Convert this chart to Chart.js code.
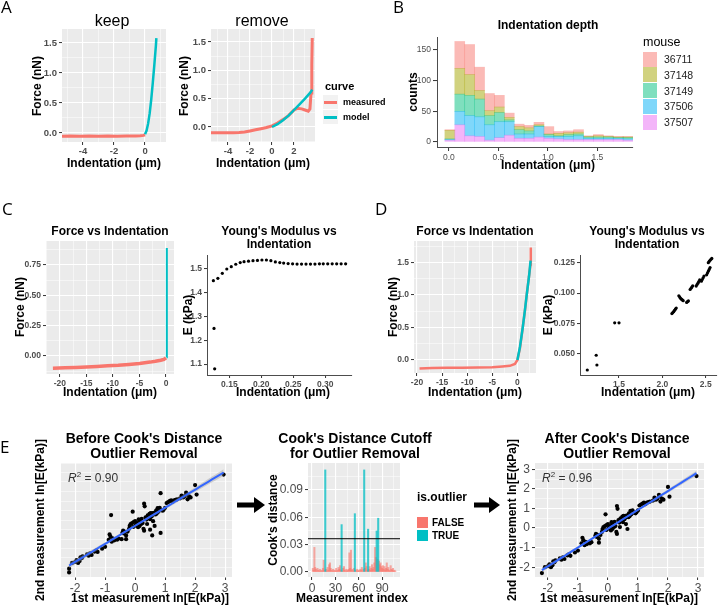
<!DOCTYPE html>
<html>
<head>
<meta charset="utf-8">
<title>Indentation figure</title>
<script src="https://cdn.jsdelivr.net/npm/chart.js@4.4.1/dist/chart.umd.min.js"></script>
<style>
  html, body { margin: 0; padding: 0; }
  body { width: 720px; height: 609px; position: relative; overflow: hidden; background: #fff;
         font-family: "Liberation Sans", Arial, sans-serif; }
  canvas { position: absolute; }
  .lbl { position: absolute; white-space: nowrap; line-height: 1; z-index: 2; color: #000; }
  .key { position: absolute; z-index: 2; }
  .panel { position: absolute; font-family: "Open Sans", sans-serif; font-size: 17px; line-height: 1; z-index: 2; }
</style>
</head>
<body>
<svg width="720" height="609" style="position:absolute;left:0;top:0;z-index:1">
  <path d="M237 502.5 H254 V497 L265 505 L254 513 V507.5 H237 Z" fill="#000"/>
  <path d="M474 502.5 H489 V497 L500 505 L489 513 V507.5 H474 Z" fill="#000"/>
</svg>
<script>
'use strict'

// ---------- A: force curves ----------
const keepMeasX = [-5.35, -4.8, -4.2, -3.6, -3.0, -2.4, -1.8, -1.2, -0.6, -0.3, -0.1, 0.0]
const keepMeasY = [-0.055, -0.05, -0.056, -0.052, -0.055, -0.05, -0.054, -0.05, -0.048, -0.045, -0.04, -0.03]
const keepModelX = [0.0, 0.1, 0.2, 0.3, 0.4, 0.5, 0.6, 0.7, 0.73]
const keepModelY = [-0.02, 0.04, 0.16, 0.33, 0.56, 0.84, 1.14, 1.46, 1.58]

const removeMeasX = [-5.55, -5, -4.5, -4, -3.5, -3, -2.5, -2, -1.5, -1, -0.5, 0, 0.5, 1, 1.5, 2, 2.3, 2.7, 3.0, 3.3, 3.45, 3.55, 3.62, 3.66]
const removeMeasY = [-0.1, -0.1, -0.1, -0.1, -0.1, -0.097, -0.09, -0.07, -0.05, -0.03, -0.01, 0.02, 0.07, 0.13, 0.2, 0.3, 0.33, 0.32, 0.3, 0.28, 0.32, 0.6, 1.1, 1.57]
const removeModelX = [0, 0.5, 1, 1.5, 2, 2.5, 3, 3.5, 3.66]
const removeModelY = [0, 0.05, 0.12, 0.2, 0.3, 0.4, 0.5, 0.61, 0.66]

// ---------- B: indentation depth histogram ----------
const binCenters = [0.01, 0.11, 0.21, 0.31, 0.41, 0.51, 0.61, 0.71, 0.81, 0.91, 1.01, 1.11, 1.21, 1.31, 1.41, 1.51, 1.61, 1.71, 1.81]
const mouseIds = ['36711', '37148', '37149', '37506', '37507']
const count36711 = [1, 44, 49, 38, 28, 19, 7, 4, 4, 4, 12, 3, 3, 4, 1, 2, 1, 1, 1]
const count37148 = [14, 42, 34, 14, 8, 9, 4, 5, 5, 2, 1, 4, 3, 3, 1, 2, 1, 1, 1]
const count37149 = [1, 28, 33, 29, 15, 15, 3, 7, 5, 1, 3, 1, 3, 3, 2, 2, 2, 1, 2]
const count37506 = [1, 22, 33, 32, 25, 26, 22, 7, 7, 17, 3, 4, 5, 6, 2, 2, 2, 2, 2]
const count37507 = [3, 28, 10, 9, 3, 7, 11, 6, 6, 8, 6, 5, 4, 4, 4, 4, 4, 4, 3]

// ---------- C: force and modulus vs indentation ----------
const cMeasX = [-21.3, -19, -17, -15, -13, -11, -9, -7, -5, -3, -2, -1, -0.4, 0]
const cMeasY = [-0.100, -0.097, -0.094, -0.090, -0.086, -0.081, -0.076, -0.069, -0.061, -0.050, -0.043, -0.035, -0.028, -0.015]
const cModelX = [0.12, 0.14, 0.15, 0.16]
const cModelY = [-0.01, 0.3, 0.6, 0.89]
const cModX = [0.125, 0.126, 0.127, 0.132, 0.139, 0.146, 0.153, 0.160, 0.167, 0.173, 0.180, 0.187, 0.194, 0.201, 0.208, 0.215, 0.222,
  0.229, 0.235, 0.242, 0.249, 0.256, 0.263, 0.270, 0.277, 0.284, 0.291, 0.297, 0.304, 0.311, 0.318, 0.325, 0.332]
const cModY = [1.451, 1.25, 1.08, 1.461, 1.482, 1.50, 1.51, 1.52, 1.527, 1.531, 1.533, 1.535, 1.536, 1.538, 1.538, 1.535, 1.530,
  1.527, 1.525, 1.523, 1.522, 1.521, 1.521, 1.521, 1.521, 1.521, 1.522, 1.522, 1.522, 1.522, 1.522, 1.522, 1.522]

// ---------- D ----------
const dMeasX = [-19.5, -17, -14, -11, -8, -5, -3, -1.5, -0.5, 0, 0.5, 1.06, 1.5, 1.85, 2.3, 2.6, 2.65, 2.68]
const dMeasY = [-0.13, -0.125, -0.12, -0.118, -0.115, -0.11, -0.10, -0.09, -0.06, 0.0, 0.18, 0.5, 0.76, 1.0, 1.28, 1.47, 1.6, 1.73]
const dModelX = [0, 0.5, 1.06, 1.5, 1.85, 2.3, 2.62]
const dModelY = [0, 0.2, 0.5, 0.77, 1.0, 1.28, 1.53]
const dModX = [1.134, 1.237, 1.245, 1.45, 1.50,
  2.11, 2.12, 2.13, 2.14, 2.15, 2.16,
  2.19, 2.20, 2.21, 2.22, 2.23, 2.24,
  2.28, 2.29, 2.30,
  2.32, 2.33, 2.34, 2.35,
  2.39, 2.40, 2.41, 2.42, 2.43,
  2.45, 2.46, 2.47, 2.48,
  2.51, 2.52, 2.53, 2.54, 2.55,
  2.53, 2.54, 2.55, 2.56, 2.57]
const dModY = [0.0369, 0.0490, 0.0410, 0.0756, 0.0756,
  0.0832, 0.0840, 0.0848, 0.0858, 0.0868, 0.0878,
  0.0978, 0.0968, 0.0958, 0.0950, 0.0944, 0.0938,
  0.0924, 0.0930, 0.0936,
  0.1030, 0.1040, 0.1050, 0.1060,
  0.1058, 0.1070, 0.1082, 0.1095, 0.1108,
  0.1098, 0.1112, 0.1126, 0.1140,
  0.1150, 0.1165, 0.1180, 0.1195, 0.1210,
  0.1250, 0.1260, 0.1270, 0.1278, 0.1285]

// ---------- E: repeat measurements and Cook's distance ----------
const keptX = [-2.2, -2.1, -2.0, -1.95, -1.9, -1.85, -1.82, -1.78, -1.75, -1.6, -1.55, -1.5, -1.45, -1.35, -1.3, -1.25, -1.1, -1.0,
  -0.88, -0.85, -0.82, -0.78, -0.75, -0.7, -0.65, -0.6, -0.55, -0.42, -0.4, -0.38, -0.35, -0.3, -0.3, -0.25,
  -0.2, -0.18, -0.15, -0.1, -0.08, -0.05, -0.05, 0.0, 0.02, 0.05, 0.08, 0.1, 0.12, 0.15, 0.15, 0.2, 0.22, 0.25, 0.28, 0.3, 0.32, 0.3, 0.35, 0.38, 0.4,
  0.42, 0.45, 0.48, 0.5, 0.52, 0.55, 0.58, 0.6, 0.62, 0.65, 0.65, 0.68, 0.7, 0.72, 0.75, 0.78, 0.82, 0.88, 0.92, 0.95,
  1.0, 1.05, 1.1, 1.15, 1.2, 1.25, 1.3, 1.35, 1.4, 1.5, 1.55, 1.6, 1.65, 1.7, 1.72, 1.75, 1.8, 1.85, 2.0, 2.05,
  2.95]
const keptY = [-2.3, -2.0, -1.95, -1.85, -2.0, -1.9, -1.7, -1.75, -1.65, -1.55, -1.62, -1.5, -1.58, -1.4, -1.35, -1.42, -1.25, -1.15,
  -0.78, -0.5, -0.62, -0.88, -0.7, -0.82, -0.75, -0.78, -0.72, -0.4, -0.3, -0.45, -0.35, -0.55, -0.75, -0.35,
  -0.2, -0.05, 0.05, 0.1, 0.7, 0.15, -0.1, 0.2, -0.02, 0.05, 0.1, -0.12, 0.3, 0.2, -0.05, 0.05, 0.32, 0.1, -0.2, 1.12, 0.98, -0.3, 0.4, 0.28, 0.05,
  0.5, 0.38, 0.58, 0.3, 0.62, 0.45, 0.62, 0.2, 0.55, 0.65, -0.05, 0.55, 0.75, 0.6, 0.88, 0.7, 0.9, 0.78, 0.75, 0.8,
  0.9, 1.15, 1.2, 1.25, 1.3, 1.22, 1.3, 1.32, 1.35, 1.4, 1.55, 1.45, 1.5, 1.7, 1.62, 1.35, 1.5, 1.45, 2.1, 1.6,
  2.65]
const outX = [-0.8, 0.85, 0.85, 0.57, -2.2, 0.5, -0.45]
const outY = [0.52, 1.67, -0.42, -0.55, -2.5, -0.25, -0.75]
const r2Before = '0.90'
const r2After = '0.96'

const cooksD = [0.004, 0.002, 0.027, 0.005, 0.003, 0.001, 0.004, 0.002, 0.001, 0.003,
  0.001, 0.002, 0.001, 0.004, 0.013, 0.002, 0.112, 0.003, 0.001, 0.005,
  0.002, 0.008, 0.010, 0.004, 0.002, 0.001, 0.003, 0.001, 0.002, 0.001,
  0.004, 0.001, 0.002, 0.005, 0.003, 0.007, 0.002, 0.052, 0.001, 0.004,
  0.006, 0.002, 0.001, 0.003, 0.001, 0.002, 0.003, 0.021, 0.004, 0.024,
  0.002, 0.003, 0.001, 0.004, 0.064, 0.002, 0.001, 0.003, 0.001, 0.002,
  0.001, 0.003, 0.002, 0.005, 0.001, 0.003, 0.112, 0.004, 0.010, 0.006,
  0.002, 0.047, 0.003, 0.006, 0.002, 0.004, 0.008, 0.003, 0.005, 0.010,
  0.027, 0.016, 0.045, 0.014, 0.059, 0.012, 0.008, 0.010, 0.006, 0.004,
  0.007, 0.003, 0.006, 0.002, 0.004, 0.010, 0.003, 0.005, 0.002, 0.001,
  0.007, 0.003, 0.002, 0.004, 0.001, 0.002, 0.001]
const outlierIndex = [17, 38, 55, 67, 72, 83, 85]
const cooksCutoff = 0.0365

// ---------- style ----------
const RED = '#F8766D'
const TEAL = '#00BFC4'
const mouseColors = ['rgba(248,118,109,0.5)', 'rgba(163,165,0,0.5)', 'rgba(0,191,125,0.5)', 'rgba(0,176,246,0.5)', 'rgba(231,107,243,0.5)']

Chart.defaults.font.family = '"Liberation Sans", Arial, sans-serif'

const panelBg = {
  id: 'panelBg',
  beforeDraw(chart, args, opts) {
    if (!opts.color) return
    const a = chart.chartArea
    chart.ctx.save()
    chart.ctx.fillStyle = opts.color
    chart.ctx.fillRect(a.left, a.top, a.right - a.left, a.bottom - a.top)
    chart.ctx.restore()
  }
}

function axis(min, max, step, digits, o = {}) {
  const gray = !o.classic
  const minor = gray ? step / 2 : step
  const major = v => Math.abs(v / step - Math.round(v / step)) < 1e-6
  return {
    type: 'linear', min, max, offset: false, stacked: !!o.stacked,
    border: { display: !gray, color: '#4d4d4d', width: 1 },
    grid: {
      offset: false,
      drawOnChartArea: gray,
      color: '#ffffff',
      lineWidth: c => (c.tick && major(c.tick.value)) ? 1.1 : 0.5,
      tickLength: o.tickLen || 3,
      tickWidth: 1,
      tickColor: c => (c.tick && major(c.tick.value)) ? '#333333' : 'rgba(0,0,0,0)'
    },
    ticks: {
      stepSize: minor, includeBounds: false, autoSkip: false, maxRotation: 0, minRotation: 0,
      padding: o.pad === undefined ? 2 : o.pad, color: '#4d4d4d',
      font: { size: o.size || 9, weight: o.bold ? 'bold' : 'normal' },
      callback: v => major(v) ? (Math.abs(v) < 1e-9 ? 0 : v).toFixed(digits) : ''
    }
  }
}

function build(geo, type, datasets, x, y, gray) {
  const ML = 42, MB = 22, MT = 10, MR = 14
  const left = geo.l - ML, top = geo.t - MT
  const w = geo.r - geo.l + ML + MR, h = geo.b - geo.t + MT + MB
  const cv = document.createElement('canvas')
  cv.width = w
  cv.height = h
  Object.assign(cv.style, { left: left + 'px', top: top + 'px', width: w + 'px', height: h + 'px' })
  document.body.appendChild(cv)
  x.afterFit = s => { s.height = MB }
  y.afterFit = s => { s.width = ML }
  return new Chart(cv, {
    type,
    data: { datasets },
    options: {
      responsive: false,
      animation: false,
      layout: { padding: { top: MT, right: MR, left: 0, bottom: 0 } },
      scales: { x, y },
      plugins: { legend: { display: false }, tooltip: { enabled: false }, panelBg: { color: gray ? '#ebebeb' : null } }
    },
    plugins: [panelBg]
  })
}

const pts = (xs, ys) => xs.map((x, i) => ({ x, y: ys[i] }))
const line = (xs, ys, color, width) => ({ data: pts(xs, ys), showLine: true, pointRadius: 0, borderColor: color, borderWidth: width, tension: 0 })
const dots = (xs, ys, r) => ({ data: pts(xs, ys), showLine: false, pointRadius: r, pointBackgroundColor: '#000', pointBorderColor: '#000', pointBorderWidth: 0 })

function put(html, x, y, css, align) {
  const d = document.createElement('div')
  d.className = 'lbl'
  d.innerHTML = html
  d.style.cssText = 'left:' + x + 'px;top:' + y + 'px;' + (css || '')
  d.style.transform = align === 'l' ? 'translate(0,-50%)' : (align === 'v' ? 'translate(-50%,-50%) rotate(-90deg)' : 'translate(-50%,-50%)')
  document.body.appendChild(d)
}
function box(x, y, w, h, color) {
  const d = document.createElement('div')
  d.className = 'key'
  d.style.cssText = 'left:' + x + 'px;top:' + y + 'px;width:' + w + 'px;height:' + h + 'px;background:' + color
  document.body.appendChild(d)
  return d
}
const AX = 'font-weight:bold;font-size:12px;'

// linear fit with 95% band, computed from the points
function fit(xs, ys) {
  const n = xs.length
  const mx = xs.reduce((a, b) => a + b, 0) / n
  const my = ys.reduce((a, b) => a + b, 0) / n
  let sxx = 0, sxy = 0
  xs.forEach((x, i) => { sxx += (x - mx) ** 2; sxy += (x - mx) * (ys[i] - my) })
  const b = sxy / sxx, a = my - b * mx
  let sse = 0
  xs.forEach((x, i) => { sse += (ys[i] - a - b * x) ** 2 })
  const s = Math.sqrt(sse / (n - 2))
  const lo = Math.min(...xs), hi = Math.max(...xs)
  const mid = [], up = [], dn = []
  for (let k = 0; k <= 40; k++) {
    const x = lo + (hi - lo) * k / 40
    const yv = a + b * x
    const se = 1.984 * s * Math.sqrt(1 / n + (x - mx) ** 2 / sxx)
    mid.push({ x, y: yv }); up.push({ x, y: yv + se }); dn.push({ x, y: yv - se })
  }
  return [
    { data: mid, showLine: true, pointRadius: 0, borderColor: '#3366FF', borderWidth: 2, order: 0 },
    { data: up, showLine: true, pointRadius: 0, borderWidth: 0, borderColor: 'rgba(0,0,0,0)', fill: '+1', backgroundColor: 'rgba(153,153,153,0.4)', order: 1 },
    { data: dn, showLine: true, pointRadius: 0, borderWidth: 0, borderColor: 'rgba(0,0,0,0)', fill: false, order: 2 }
  ]
}

// ---------- A ----------
build({ l: 62, t: 29, r: 166, b: 142 }, 'scatter',
  [line(keepModelX, keepModelY, TEAL, 2.5), line(keepMeasX, keepMeasY, RED, 3)],
  axis(-5.35, 1.35, 2, 0, { size: 9.5, bold: true, pad: 1 }),
  axis(-0.15, 1.733, 0.5, 1, { size: 9.5, bold: true }), true)
build({ l: 211, t: 29, r: 315, b: 142 }, 'scatter',
  [line(removeModelX, removeModelY, TEAL, 2.5), line(removeMeasX, removeMeasY, RED, 3)],
  axis(-5.55, 3.91, 2, 0, { size: 9.5, bold: true, pad: 1 }),
  axis(-0.265, 1.73, 0.5, 1, { size: 9.5, bold: true }), true)

put('keep', 112, 21, 'font-size:16px;')
put('remove', 262, 21, 'font-size:16px;')
put('Indentation (μm)', 114, 163, AX)
put('Indentation (μm)', 263, 163, AX)
put('Force (nN)', 37, 86, AX, 'v')
put('Force (nN)', 184, 86, AX, 'v')
put('curve', 325, 86, 'font-weight:bold;font-size:11px;', 'l')
;[[RED, 'measured', 102], [TEAL, 'model', 117]].forEach(([c, t, y]) => {
  box(323, y - 7, 15, 14, '#f2f2f2')
  box(324, y - 1, 13, 2.5, c)
  put(t, 343, y, 'font-weight:bold;font-size:9px;', 'l')
})

// ---------- B ----------
const stackOrder = [count37507, count37506, count37149, count37148, count36711]
const stackColors = [mouseColors[4], mouseColors[3], mouseColors[2], mouseColors[1], mouseColors[0]]
build({ l: 437, t: 37, r: 633, b: 147 }, 'bar',
  stackOrder.map((cnt, k) => ({
    data: pts(binCenters, cnt), backgroundColor: stackColors[k], borderWidth: 0,
    barPercentage: 1, categoryPercentage: 1
  })),
  axis(-0.12, 1.86, 0.5, 1, { classic: true, stacked: true, size: 8.5, tickLen: 4 }),
  axis(-8.25, 171.3, 50, 0, { classic: true, stacked: true, size: 8.5, tickLen: 4 }), false)
put('Indentation depth', 548, 25, 'font-weight:bold;font-size:12px;')
put('Indentation (μm)', 548, 165, AX)
put('counts', 413, 92, AX, 'v')
put('mouse', 643, 42, 'font-size:12.5px;', 'l')
mouseIds.forEach((id, k) => {
  const y = 59 + k * 15.8
  box(643, y - 7.5, 14, 15, mouseColors[k])
  put(id, 664, y, 'font-size:10.5px;color:#222;', 'l')
})

// ---------- C ----------
build({ l: 46, t: 241, r: 174, b: 374 }, 'scatter',
  [line(cModelX, cModelY, TEAL, 2), line(cMeasX, cMeasY, RED, 3.5)],
  axis(-22.6, 1.5, 5, 0, { size: 8.5, bold: true }),
  axis(-0.148, 0.948, 0.25, 2, { size: 8.5, bold: true }), true)
build({ l: 207, t: 255, r: 352, b: 375 }, 'scatter',
  [dots(cModX, cModY, 1.6)],
  axis(0.115, 0.342, 0.05, 2, { classic: true, size: 8.5, bold: true }),
  axis(1.054, 1.559, 0.1, 1, { classic: true, size: 8.5, bold: true }), false)
put('Force vs Indentation', 110, 231, 'font-weight:bold;font-size:12px;')
put("Young's Modulus vs", 279, 231, 'font-weight:bold;font-size:12px;')
put('Indentation', 279, 244, 'font-weight:bold;font-size:12px;')
put('Indentation (μm)', 110, 392, AX)
put('Indentation (μm)', 283, 392, AX)
put('Force (nN)', 20, 307, AX, 'v')
put('E (kPa)', 188, 315, AX, 'v')

// ---------- D ----------
build({ l: 414, t: 241, r: 536, b: 373 }, 'scatter',
  [line(dModelX, dModelY, TEAL, 2.5), line(dMeasX, dMeasY, RED, 2.5)],
  axis(-20.6, 3.7, 5, 0, { size: 8.5, bold: true }),
  axis(-0.2, 1.83, 0.5, 1, { size: 8.5, bold: true }), true)
build({ l: 580, t: 255, r: 717, b: 375 }, 'scatter',
  [dots(dModX, dModY, 1.6)],
  axis(1.05, 2.63, 0.5, 1, { classic: true, size: 8.5, bold: true }),
  axis(0.0328, 0.1313, 0.025, 3, { classic: true, size: 8.5, bold: true }), false)
put('Force vs Indentation', 475, 231, 'font-weight:bold;font-size:12px;')
put("Young's Modulus vs", 647, 231, 'font-weight:bold;font-size:12px;')
put('Indentation', 647, 244, 'font-weight:bold;font-size:12px;')
put('Indentation (μm)', 475, 392, AX)
put('Indentation (μm)', 648, 392, AX)
put('Force (nN)', 393, 307, AX, 'v')
put('E (kPa)', 548, 315, AX, 'v')

// ---------- E ----------
const allX = keptX.concat(outX), allY = keptY.concat(outY)
build({ l: 61, t: 463, r: 232, b: 577 }, 'scatter',
  fit(allX, allY).concat([Object.assign(dots(allX, allY, 2.1), { order: 3 })]),
  axis(-2.47, 3.23, 1, 0, { size: 12, pad: 1 }),
  axis(-2.74, 3.26, 1, 0, { size: 12 }), true)
build({ l: 535, t: 463, r: 704, b: 577 }, 'scatter',
  fit(keptX, keptY).concat([Object.assign(dots(keptX, keptY, 2.1), { order: 3 })]),
  axis(-2.43, 3.2, 1, 0, { size: 12, pad: 1 }),
  axis(-2.5, 3.32, 1, 0, { size: 12 }), true)

const isOut = cooksD.map((_, i) => outlierIndex.includes(i + 1))
const cooksXMin = -5.2, cooksXMax = 113
build({ l: 308, t: 463, r: 400, b: 577 }, 'bar', [
  { type: 'scatter', data: [{ x: cooksXMin, y: cooksCutoff }, { x: cooksXMax, y: cooksCutoff }], showLine: true,
    pointRadius: 0, borderColor: '#000', borderWidth: 1, order: 0 },
  { data: cooksD.map((d, i) => ({ x: i + 1, y: d })).filter((p, i) => !isOut[i]),
    backgroundColor: 'rgba(248,118,109,0.6)', barThickness: 1.4, grouped: false, order: 2 },
  { data: cooksD.map((d, i) => ({ x: i + 1, y: d })).filter((p, i) => isOut[i]),
    backgroundColor: 'rgba(0,191,196,0.75)', barThickness: 1.4, grouped: false, order: 1 }
],
axis(cooksXMin, cooksXMax, 30, 0, { size: 12, pad: 1 }),
axis(-0.0055, 0.1196, 0.03, 2, { size: 12 }), true)

put("Before Cook's Distance", 144, 438, 'font-weight:bold;font-size:14px;')
put('Outlier Removal', 144, 453, 'font-weight:bold;font-size:14px;')
put("Cook's Distance Cutoff", 355, 438, 'font-weight:bold;font-size:14px;')
put('for Outlier Removal', 355, 453, 'font-weight:bold;font-size:14px;')
put("After Cook's Distance", 617, 438, 'font-weight:bold;font-size:14px;')
put('Outlier Removal', 617, 453, 'font-weight:bold;font-size:14px;')
put('1st measurement ln[E(kPa)]', 150, 598, AX)
put('Measurement index', 352, 598, AX)
put('1st measurement ln[E(kPa)]', 619, 598, AX)
put('2nd measurement ln[E(kPa)]', 40, 520, AX, 'v')
put("Cook's distance", 273, 520, AX, 'v')
put('2nd measurement ln[E(kPa)]', 512, 520, AX, 'v')
put('<i>R</i><sup style="font-size:8px">2</sup> = ' + r2Before, 68, 477, 'font-size:12px;color:#333;', 'l')
put('<i>R</i><sup style="font-size:8px">2</sup> = ' + r2After, 542, 477, 'font-size:12px;color:#333;', 'l')
put('is.outlier', 417, 497, 'font-weight:bold;font-size:12px;', 'l')
box(417, 517, 11, 11, RED)
box(417, 530, 11, 11, TEAL)
put('FALSE', 432, 523, 'font-weight:bold;font-size:10px;', 'l')
put('TRUE', 432, 536, 'font-weight:bold;font-size:10px;', 'l')

// panel letters
;[['A', 6, 7], ['B', 398, 7], ['C', 7, 209], ['D', 380, 209], ['E', 5, 447]].forEach(([t, x, y]) => {
  const d = document.createElement('div')
  d.className = 'panel'
  d.textContent = t
  d.style.left = (x - 5) + 'px'
  d.style.top = (y - 9) + 'px'
  document.body.appendChild(d)
})
</script>
</body>
</html>
